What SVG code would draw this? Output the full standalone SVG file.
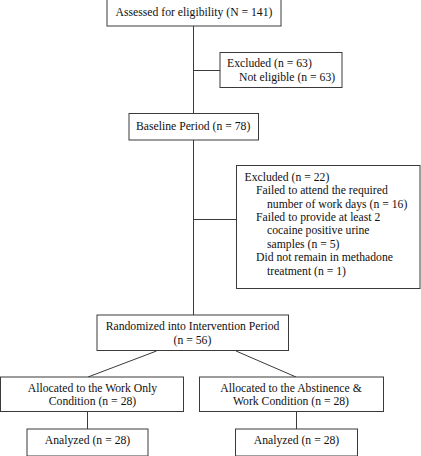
<svg xmlns="http://www.w3.org/2000/svg" width="421" height="456" viewBox="0 0 421 456">
<style>
rect{fill:#fff;stroke:#3a3a3a;stroke-width:1}
line{stroke:#3a3a3a;stroke-width:1}
text{font-family:"Liberation Serif","Times New Roman",serif;font-size:11.7px;fill:#111}
.c{text-anchor:middle}
</style>
<rect x="0" y="0" width="421" height="456" style="stroke:none"/>
<g id="connectors">
<line x1="193.5" y1="26" x2="193.5" y2="113"/>
<line x1="193.5" y1="70.5" x2="220" y2="70.5"/>
<line x1="193.5" y1="140" x2="193.5" y2="315"/>
<line x1="193.5" y1="219.5" x2="236" y2="219.5"/>
<line x1="156.5" y1="351" x2="88" y2="377"/>
<line x1="236" y1="351" x2="296" y2="377"/>
<line x1="87.5" y1="411" x2="87.5" y2="429"/>
<line x1="296.5" y1="411" x2="296.5" y2="429"/>
</g>
<g id="assessed">
<rect x="107" y="-1" width="174" height="27"/>
<text class="c" x="194" y="16">Assessed for eligibility (N = 141)</text>
</g>
<g id="excluded1">
<rect x="220" y="52.5" width="122" height="35"/>
<text x="227" y="67">Excluded (n = 63)</text>
<text x="239" y="80.5">Not eligible (n = 63)</text>
</g>
<g id="baseline">
<rect x="129" y="113.5" width="129.5" height="26.5"/>
<text x="136" y="130">Baseline Period (n = 78)</text>
</g>
<g id="excluded2">
<rect x="236.5" y="165.5" width="183.5" height="123"/>
<text x="244.5" y="180.5">Excluded (n = 22)</text>
<text x="256" y="194">Failed to attend the required</text>
<text x="267" y="207.5">number of work days (n = 16)</text>
<text x="256" y="221">Failed to provide at least 2</text>
<text x="267" y="234">cocaine positive urine</text>
<text x="267" y="247.5">samples (n = 5)</text>
<text x="256" y="261">Did not remain in methadone</text>
<text x="267" y="274.5">treatment (n = 1)</text>
</g>
<g id="randomized">
<rect x="97" y="315" width="191.5" height="35.5"/>
<text class="c" x="192.5" y="329.5">Randomized into Intervention Period</text>
<text class="c" x="192.5" y="343.5">(n = 56)</text>
</g>
<g id="workonly">
<rect x="0.5" y="377" width="183" height="34.5"/>
<text class="c" x="92.5" y="391.5">Allocated to the Work Only</text>
<text class="c" x="92.5" y="405">Condition (n = 28)</text>
</g>
<g id="abstinence">
<rect x="199.5" y="377" width="184" height="34.5"/>
<text class="c" x="291" y="391.5">Allocated to the Abstinence &amp;</text>
<text class="c" x="291" y="405">Work Condition (n = 28)</text>
</g>
<g id="analyzed1">
<rect x="27" y="429" width="121" height="27"/>
<text class="c" x="87.5" y="443.5">Analyzed (n = 28)</text>
</g>
<g id="analyzed2">
<rect x="235.5" y="429" width="122" height="27"/>
<text class="c" x="296.5" y="443.5">Analyzed (n = 28)</text>
</g>
</svg>
